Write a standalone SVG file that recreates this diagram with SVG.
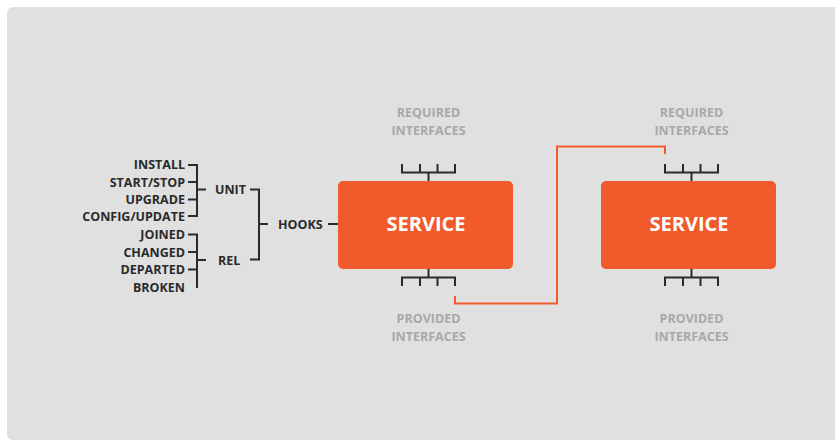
<svg xmlns="http://www.w3.org/2000/svg" width="835" height="442" viewBox="0 0 835 442">
  <style>
    .lbl { font-family: "Open Sans", "Liberation Sans", sans-serif; font-weight: 700; font-size: 12.5px; fill: #2a2a2a; }
    .gray { font-family: "Open Sans", "Liberation Sans", sans-serif; font-weight: 700; font-size: 12.5px; fill: #a8a8a8; text-anchor: middle; }
    .svc { font-family: "Open Sans", "Liberation Sans", sans-serif; font-weight: 700; font-size: 20px; fill: #ffffff; text-anchor: middle; }
    .box { fill: #f15a2b; }
    .ln { fill: none; stroke: #2a2a2a; stroke-width: 2; stroke-linejoin: miter; }
    .conn { fill: none; stroke: #f15a2b; stroke-width: 2; }
  </style>
  <rect x="0" y="0" width="835" height="442" fill="#ffffff"/>
  <rect x="7" y="7" width="840" height="433" rx="6" fill="#e0e0e0"/>

  <g id="hooks-tree">
    <text class="lbl" x="185" y="169" text-anchor="end">INSTALL</text>
    <text class="lbl" x="185" y="186.5" text-anchor="end">START/STOP</text>
    <text class="lbl" x="185" y="204" text-anchor="end">UPGRADE</text>
    <text class="lbl" x="185" y="221" text-anchor="end">CONFIG/UPDATE</text>
    <text class="lbl" x="185" y="239" text-anchor="end">JOINED</text>
    <text class="lbl" x="185" y="256.5" text-anchor="end">CHANGED</text>
    <text class="lbl" x="185" y="274" text-anchor="end">DEPARTED</text>
    <text class="lbl" x="185" y="291.5" text-anchor="end">BROKEN</text>
    <text class="lbl" x="215" y="194">UNIT</text>
    <text class="lbl" x="218" y="264.5">REL</text>
    <text class="lbl" x="278" y="228.5">HOOKS</text>
    <path class="ln" d="M188 165 H197 V216 H188 M188 182 H197 M188 199.5 H197 M197 189.5 H206"/>
    <path class="ln" d="M188 234.5 H197 V288 M188 252 H197 M188 269.5 H197 M197 260 H206"/>
    <path class="ln" d="M250 189.5 H259 V259.5 H250 M259 224 H268"/>
    <path class="ln" d="M328 224 H338"/>
  </g>

  <g id="service1">
    <rect class="box" x="338" y="181" width="175" height="88" rx="5"/>
    <text class="svc" x="426" y="231">SERVICE</text>
    <text class="gray" x="428.5" y="117">REQUIRED</text>
    <text class="gray" x="428.5" y="134.5">INTERFACES</text>
    <text class="gray" x="428.5" y="323">PROVIDED</text>
    <text class="gray" x="428.5" y="340.5">INTERFACES</text>
    <path class="ln" d="M428.5 181 V172.5 M402 164 V172.5 H455 V164 M420 164 V172.5 M437.5 164 V172.5"/>
    <path class="ln" d="M428.5 269 V277.5 M402 286 V277.5 H455 V286 M420 286 V277.5 M437.5 286 V277.5"/>
  </g>

  <g id="service2">
    <rect class="box" x="601" y="181" width="175" height="88" rx="5"/>
    <text class="svc" x="689" y="231">SERVICE</text>
    <text class="gray" x="691.5" y="117">REQUIRED</text>
    <text class="gray" x="691.5" y="134.5">INTERFACES</text>
    <text class="gray" x="691.5" y="323">PROVIDED</text>
    <text class="gray" x="691.5" y="340.5">INTERFACES</text>
    <path class="ln" d="M691.5 181 V172.5 M665 164 V172.5 H718 V164 M683 164 V172.5 M700.5 164 V172.5"/>
    <path class="ln" d="M691.5 269 V277.5 M665 286 V277.5 H718 V286 M683 286 V277.5 M700.5 286 V277.5"/>
  </g>

  <g id="connectors">
    <path class="conn" d="M455 296 V303.5 H557 V146.5 H665 V154"/>
  </g>
</svg>
